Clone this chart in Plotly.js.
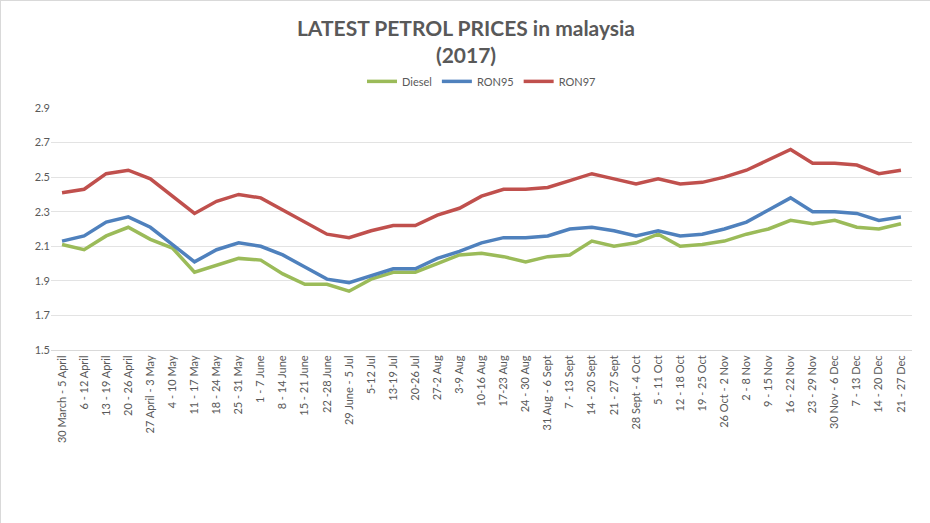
<!DOCTYPE html>
<html><head><meta charset="utf-8">
<script src="https://cdn.plot.ly/plotly-3.0.1.min.js"></script>
<style>html,body{margin:0;padding:0;background:#fff;}#chart{width:930px;height:523px;box-sizing:border-box;border:1px solid #d9d9d9;}</style>
</head><body><div id="chart"></div>
<script>
const weeks = ["30 March - 5 April","6 - 12 April","13 - 19 April","20 - 26 April","27 April - 3 May","4 - 10 May","11 - 17 May","18 - 24 May","25 - 31 May","1 - 7 June","8 - 14 June","15 - 21 June","22 -28 June","29 June - 5 Jul","5-12 Jul","13-19 Jul","20-26 Jul","27-2 Aug","3-9 Aug","10-16 Aug","17-23 Aug","24 - 30 Aug","31 Aug - 6 Sept","7 - 13 Sept","14 - 20 Sept","21 - 27 Sept","28 Sept - 4 Oct","5 - 11 Oct","12 - 18 Oct","19 - 25 Oct","26 Oct - 2 Nov","2 - 8 Nov","9 - 15 Nov","16 - 22 Nov","23 - 29 Nov","30 Nov - 6 Dec","7 - 13 Dec","14 - 20 Dec","21 - 27 Dec"];
const diesel = [2.11,2.08,2.16,2.21,2.14,2.09,1.95,1.99,2.03,2.02,1.94,1.88,1.88,1.84,1.91,1.95,1.95,2.00,2.05,2.06,2.04,2.01,2.04,2.05,2.13,2.10,2.12,2.17,2.10,2.11,2.13,2.17,2.20,2.25,2.23,2.25,2.21,2.20,2.23];
const ron95 = [2.13,2.16,2.24,2.27,2.21,2.11,2.01,2.08,2.12,2.10,2.05,1.98,1.91,1.89,1.93,1.97,1.97,2.03,2.07,2.12,2.15,2.15,2.16,2.20,2.21,2.19,2.16,2.19,2.16,2.17,2.20,2.24,2.31,2.38,2.30,2.30,2.29,2.25,2.27];
const ron97 = [2.41,2.43,2.52,2.54,2.49,2.39,2.29,2.36,2.40,2.38,2.31,2.24,2.17,2.15,2.19,2.22,2.22,2.28,2.32,2.39,2.43,2.43,2.44,2.48,2.52,2.49,2.46,2.49,2.46,2.47,2.50,2.54,2.60,2.66,2.58,2.58,2.57,2.52,2.54];
const yTicks = [1.5,1.7,1.9,2.1,2.3,2.5,2.7,2.9];

const mk = (name, y, color) => ({type:'scatter', mode:'lines', name, x:weeks, y, line:{color, width:3.5}});
const data = [mk('Diesel', diesel, '#9BBB59'), mk('RON95', ron95, '#4F81BD'), mk('RON97', ron97, '#C0504D')];
const font = "Lato, 'Open Sans', sans-serif";
const layout = {
  width:930, height:523,
  margin:{l:50, r:19, t:107, b:174},
  paper_bgcolor:'#fff', plot_bgcolor:'#fff',
  font:{family:font, color:'#595959', size:11},
  title:{text:'<b>LATEST PETROL PRICES in malaysia<br>(2017)</b>', x:0.5, xanchor:'center', y:0.934, yanchor:'middle', font:{family:font, size:21, color:'#595959'}},
  showlegend:true,
  legend:{orientation:'h', x:0.5, xanchor:'center', y:1.11, yanchor:'middle', font:{size:11, color:'#595959'}, itemwidth:30, tracegroupgap:0},
  xaxis:{type:'category', range:[-0.5, weeks.length-0.5], tickangle:-90, showgrid:false, showline:true, linecolor:'#d9d9d9', linewidth:1, ticks:'', tickfont:{size:11, color:'#595959'}, automargin:false, fixedrange:true},
  yaxis:{range:[1.5,2.9], tickvals:yTicks, ticktext:yTicks.map(v=>v.toFixed(1)), showgrid:true, gridcolor:'#e3e3e3', gridwidth:1, zeroline:false, showline:false, ticks:'', tickfont:{size:11, color:'#595959'}, automargin:false, fixedrange:true}
};
Plotly.newPlot('chart', data, layout, {displayModeBar:false, staticPlot:true});
</script></body></html>
